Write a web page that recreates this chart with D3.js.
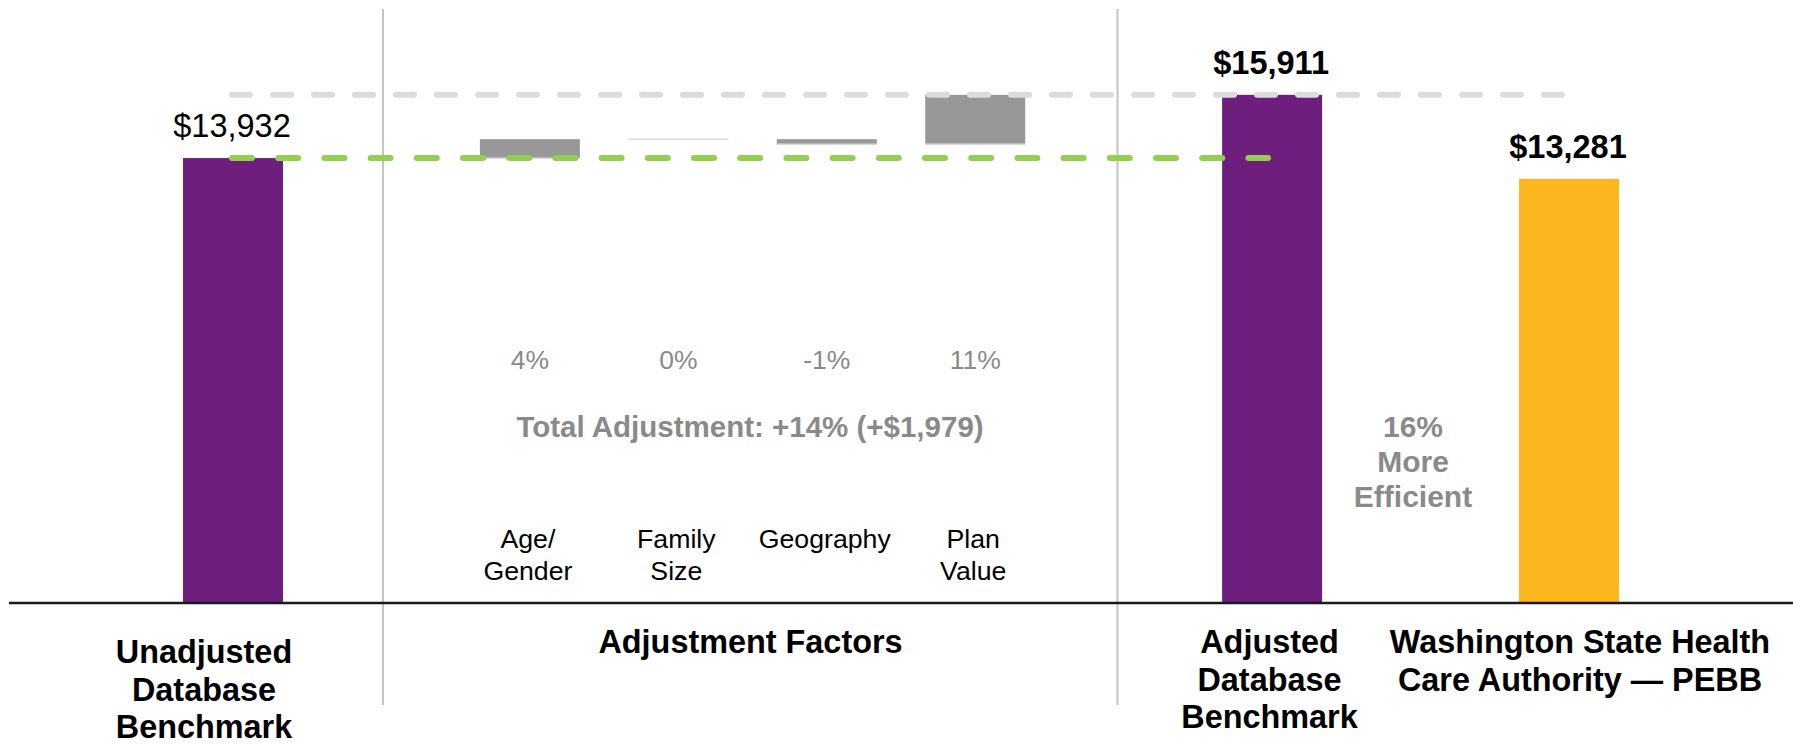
<!DOCTYPE html>
<html>
<head>
<meta charset="utf-8">
<script src="https://cdn.jsdelivr.net/npm/d3@7"></script>
<style>
  html, body { margin: 0; padding: 0; background: #fff; }
  svg { display: block; font-family: "Liberation Sans", Arial, Helvetica, sans-serif; }
</style>
</head>
<body>
<svg id="chart" width="1793" height="744"></svg>
<script>
// ---- data ----
const totalNames = ["Unadjusted Database Benchmark", "Adjusted Database Benchmark", "Washington State Health Care Authority — PEBB"];
const totalValues = [13932, 15911, 13281];
const totalLabels = ["$13,932", "$15,911", "$13,281"];
const totalSlots = [0, 7, 9];

const factorNames = ["Age/Gender", "Family Size", "Geography", "Plan Value"];
const factorDeltas = [590, 0, -150, 1539];
const factorPct = ["4%", "0%", "-1%", "11%"];
const factorSlots = [2, 3, 4, 5];
const factorLabelLines = [["Age/", "Gender"], ["Family", "Size"], ["Geography"], ["Plan", "Value"]];

const totalAdjustmentText = "Total Adjustment: +14% (+$1,979)";
const efficiencyLines = ["16%", "More", "Efficient"];
const groupLabelLines = [
  ["Unadjusted", "Database", "Benchmark"],
  ["Adjustment Factors"],
  ["Adjusted", "Database", "Benchmark"],
  ["Washington State Health", "Care Authority — PEBB"]
];

// ---- layout ----
const W = 1793, H = 744;
const baseY = 603;
const svg = d3.select("#chart");
const x = d3.scaleLinear().domain([0, 9]).range([233, 1569]);
const y = d3.scaleLinear().domain([0, 18880]).range([baseY, 0]);
const barW = 100;
const purple = "#6E1F7E", yellow = "#FDB71E", gray = "#989898", textGray = "#8A8A8A";

// dividers
[383, 1117.5].forEach(dx => {
  svg.append("line").attr("x1", dx).attr("x2", dx).attr("y1", 9).attr("y2", 705)
    .attr("stroke", "#c4c4c4").attr("stroke-width", 2);
});

// waterfall factor bars
let run = totalValues[0];
const steps = factorDeltas.map((d, i) => {
  const s = { start: run, end: run + d, slot: factorSlots[i], name: factorNames[i] };
  run += d;
  return s;
});
steps.forEach(s => {
  const top = y(Math.max(s.start, s.end)), bot = y(Math.min(s.start, s.end));
  if (bot - top < 1) {
    svg.append("line").attr("x1", x(s.slot) - barW / 2).attr("x2", x(s.slot) + barW / 2)
      .attr("y1", top).attr("y2", top).attr("stroke", "#d9d9d9").attr("stroke-width", 1.5);
  } else {
    svg.append("rect").attr("x", x(s.slot) - barW / 2).attr("width", barW)
      .attr("y", top).attr("height", bot - top).attr("fill", gray);
    svg.append("line").attr("x1", x(s.slot) - barW / 2).attr("x2", x(s.slot) + barW / 2)
      .attr("y1", bot).attr("y2", bot).attr("stroke", "#c8c8c8").attr("stroke-width", 1.5);
  }
});

// total bars
const totalColors = [purple, purple, yellow];
totalValues.forEach((v, i) => {
  svg.append("rect").attr("x", x(totalSlots[i]) - barW / 2).attr("width", barW)
    .attr("y", y(v)).attr("height", baseY - y(v)).attr("fill", totalColors[i]);
});

// dashed reference lines
svg.append("line").attr("x1", 232).attr("x2", 1563)
  .attr("y1", y(totalValues[1])).attr("y2", y(totalValues[1]))
  .attr("stroke", "#DCDCDC").attr("stroke-width", 6).attr("stroke-linecap", "round")
  .attr("stroke-dasharray", "18,23");
svg.append("line").attr("x1", 232).attr("x2", 1268)
  .attr("y1", y(totalValues[0])).attr("y2", y(totalValues[0]))
  .attr("stroke", "#92D050").attr("stroke-width", 6).attr("stroke-linecap", "round")
  .attr("stroke-dasharray", "20,26.2");

// axis baseline
svg.append("line").attr("x1", 9).attr("x2", W).attr("y1", baseY).attr("y2", baseY)
  .attr("stroke", "#1a1a1a").attr("stroke-width", 2.5);

// value labels
totalValues.forEach((v, i) => {
  svg.append("text").attr("x", x(totalSlots[i]) - 1).attr("y", y(v) - 21)
    .attr("text-anchor", "middle").attr("font-size", 32.5)
    .attr("font-weight", i === 0 ? "normal" : "bold").attr("fill", "#000")
    .text(totalLabels[i]);
});

// factor percentages
factorPct.forEach((p, i) => {
  svg.append("text").attr("x", x(factorSlots[i])).attr("y", 369)
    .attr("text-anchor", "middle").attr("font-size", 26.5).attr("fill", textGray).text(p);
});

// total adjustment
svg.append("text").attr("x", 750).attr("y", 437).attr("text-anchor", "middle")
  .attr("font-size", 29.5).attr("font-weight", "bold").attr("fill", textGray).text(totalAdjustmentText);

// efficiency note
efficiencyLines.forEach((t, i) => {
  svg.append("text").attr("x", 1413).attr("y", 437 + i * 35).attr("text-anchor", "middle")
    .attr("font-size", 30).attr("font-weight", "bold").attr("fill", textGray).text(t);
});

// factor category labels
factorLabelLines.forEach((lines, i) => {
  lines.forEach((t, j) => {
    svg.append("text").attr("x", x(factorSlots[i]) - 2).attr("y", 548 + j * 32)
      .attr("text-anchor", "middle").attr("font-size", 26.7).attr("fill", "#000").text(t);
  });
});

// group labels under axis
const groupX = [204, 750.5, 1269.5, 1580];
const groupY0 = [663, 653, 653, 653];
groupLabelLines.forEach((lines, i) => {
  lines.forEach((t, j) => {
    svg.append("text").attr("x", groupX[i]).attr("y", groupY0[i] + j * 37.5)
      .attr("text-anchor", "middle").attr("font-size", 32.4).attr("font-weight", "bold")
      .attr("fill", "#000").text(t);
  });
});
</script>
</body>
</html>
